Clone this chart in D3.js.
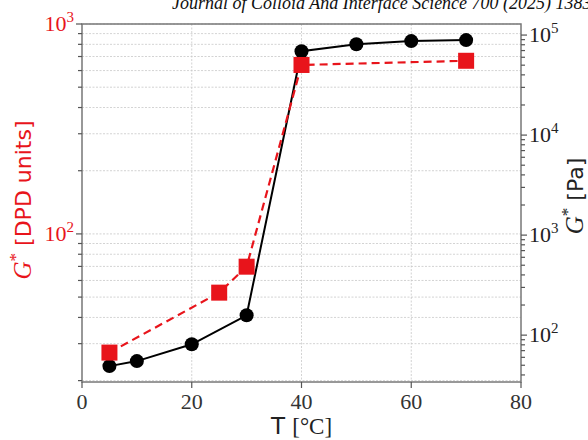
<!DOCTYPE html>
<html>
<head>
<meta charset="utf-8">
<script src="https://cdn.jsdelivr.net/npm/d3@7"></script>
<style>
  body { margin: 0; background: #fff; }
  svg { display: block; }
</style>
</head>
<body>
<div id="chart"></div>
<script>
// data
const dpdT = [5, 25, 30, 40, 70];
const dpdG = [27.2, 52.5, 69.8, 638, 668];          // G* [DPD units], left axis
const expT = [5, 10, 20, 30, 40, 50, 60, 70];
const expG = [49, 55, 81, 158, 69000, 81000, 87000, 89000]; // G* [Pa], right axis
const xTicks = [0, 20, 40, 60, 80];
const leftMajor = [100, 1000];
const rightMajor = [100, 1000, 10000, 100000];

const width = 588, height = 440;
const margin = {top: 24, right: 67, bottom: 58, left: 82};

const svg = d3.select("#chart").append("svg")
    .attr("width", width)
    .attr("height", height);

const x = d3.scaleLinear().domain([0, 80]).range([margin.left, width - margin.right]);
const yL = d3.scaleLog().domain([19.7, 1000]).range([height - margin.bottom, margin.top]);
const yR = d3.scaleLog().domain([34, 129000]).range([height - margin.bottom, margin.top]);

const serif = "'Liberation Serif', 'DejaVu Serif', serif";
const sans = "'DejaVu Sans', 'Open Sans', sans-serif";

// minor ticks for a log scale between domain bounds
function logTicks(scale) {
  const [a, b] = scale.domain();
  const out = [];
  for (let e = Math.floor(Math.log10(a)); e <= Math.ceil(Math.log10(b)); e++) {
    for (let m = 1; m < 10; m++) {
      const v = m * Math.pow(10, e);
      if (v >= a * 0.999 && v <= b * 1.001) out.push(v);
    }
  }
  return out;
}
const leftAll = logTicks(yL);
const rightAll = logTicks(yR);

// grid
const grid = svg.append("g")
    .attr("stroke", "#c8c8c8")
    .attr("stroke-width", 0.8)
    .attr("stroke-dasharray", "2,1.5");
grid.selectAll(".gy").data(leftAll).join("line")
    .attr("x1", margin.left).attr("x2", width - margin.right)
    .attr("y1", d => yL(d)).attr("y2", d => yL(d));
grid.selectAll(".gx").data(xTicks.slice(1, -1)).join("line")
    .attr("x1", d => x(d)).attr("x2", d => x(d))
    .attr("y1", margin.top).attr("y2", height - margin.bottom);

// frame
svg.append("rect")
    .attr("x", margin.left).attr("y", margin.top)
    .attr("width", width - margin.left - margin.right)
    .attr("height", height - margin.top - margin.bottom)
    .attr("fill", "none").attr("stroke", "#777").attr("stroke-width", 1.5);

// left ticks
const axL = svg.append("g").attr("stroke", "#555").attr("stroke-width", 1.2);
axL.selectAll("line").data(leftAll).join("line")
    .attr("x1", margin.left).attr("x2", d => margin.left - (leftMajor.includes(d) ? 6 : 4))
    .attr("y1", d => yL(d)).attr("y2", d => yL(d));

// right ticks
const axR = svg.append("g").attr("stroke", "#555").attr("stroke-width", 1.2);
axR.selectAll("line").data(rightAll).join("line")
    .attr("x1", width - margin.right).attr("x2", d => width - margin.right + (rightMajor.includes(d) ? 6 : 4))
    .attr("y1", d => yR(d)).attr("y2", d => yR(d));

// bottom ticks
svg.append("g").attr("stroke", "#555").attr("stroke-width", 1.2)
  .selectAll("line").data(xTicks).join("line")
    .attr("x1", d => x(d)).attr("x2", d => x(d))
    .attr("y1", height - margin.bottom).attr("y2", height - margin.bottom + 6);

function powLabel(g, v, anchor, color) {
  const t = g.append("text")
      .attr("font-family", serif)
      .attr("font-size", 22)
      .attr("fill", color)
      .attr("text-anchor", anchor);
  t.append("tspan").text("10");
  t.append("tspan").attr("dy", -9).attr("font-size", 15).text(Math.round(Math.log10(v)));
  return t;
}

leftMajor.forEach(v => {
  powLabel(svg, v, "end", "#e8141b")
    .attr("x", margin.left - 8).attr("y", yL(v) + 7);
});
rightMajor.forEach(v => {
  powLabel(svg, v, "start", "#222")
    .attr("x", width - margin.right + 8).attr("y", yR(v) + 7);
});

svg.append("g").selectAll("text").data(xTicks).join("text")
    .attr("x", d => x(d)).attr("y", height - margin.bottom + 27)
    .attr("text-anchor", "middle")
    .attr("font-family", serif).attr("font-size", 22)
    .attr("fill", "#333")
    .text(d => d);

// lines
const dpdPts = dpdT.map((t, i) => [t, dpdG[i]]);
const expPts = expT.map((t, i) => [t, expG[i]]);

svg.append("path")
    .datum(expPts)
    .attr("fill", "none").attr("stroke", "#000").attr("stroke-width", 2)
    .attr("d", d3.line().x(d => x(d[0])).y(d => yR(d[1])));
svg.append("g").selectAll("circle").data(expPts).join("circle")
    .attr("cx", d => x(d[0])).attr("cy", d => yR(d[1]))
    .attr("r", 7).attr("fill", "#000");

svg.append("path")
    .datum(dpdPts)
    .attr("fill", "none").attr("stroke", "#e8141b").attr("stroke-width", 2.2)
    .attr("stroke-dasharray", "8,5")
    .attr("d", d3.line().x(d => x(d[0])).y(d => yL(d[1])));
const sq = 16;
svg.append("g").selectAll("rect").data(dpdPts).join("rect")
    .attr("x", d => x(d[0]) - sq / 2).attr("y", d => yL(d[1]) - sq / 2)
    .attr("width", sq).attr("height", sq)
    .attr("fill", "#e8141b");

// axis labels
const yl = svg.append("text")
    .attr("transform", `translate(31,200) rotate(-90)`)
    .attr("text-anchor", "middle")
    .attr("fill", "#e8141b").attr("font-size", 25);
yl.append("tspan").attr("font-family", serif).attr("font-style", "italic").text("G");
yl.append("tspan").attr("font-family", serif).attr("font-size", 17).attr("dy", -10).text("*");
yl.append("tspan").attr("font-family", sans).attr("font-size", 22).attr("dy", 10).text(" [DPD units]");

const yr = svg.append("text")
    .attr("transform", `translate(583,196) rotate(-90)`)
    .attr("text-anchor", "middle")
    .attr("fill", "#222").attr("font-size", 25);
yr.append("tspan").attr("font-family", serif).attr("font-style", "italic").text("G");
yr.append("tspan").attr("font-family", serif).attr("font-size", 17).attr("dy", -10).text("*");
yr.append("tspan").attr("font-family", sans).attr("font-size", 22).attr("dy", 10).text(" [Pa]");

const xl = svg.append("text")
    .attr("x", x(40)).attr("y", height - 6)
    .attr("text-anchor", "middle")
    .attr("fill", "#222").attr("font-size", 23);
xl.append("tspan").attr("font-family", sans).text("T ");
xl.append("tspan").attr("font-family", serif).text("[°C]");

// journal header, clipped at the top edge as in the source scan
svg.append("text")
    .attr("x", 172).attr("y", 9)
    .attr("font-family", serif).attr("font-style", "italic").attr("font-size", 18)
    .attr("fill", "#111")
    .text("Journal of Colloid And Interface Science 700 (2025) 138365");
</script>
</body>
</html>
